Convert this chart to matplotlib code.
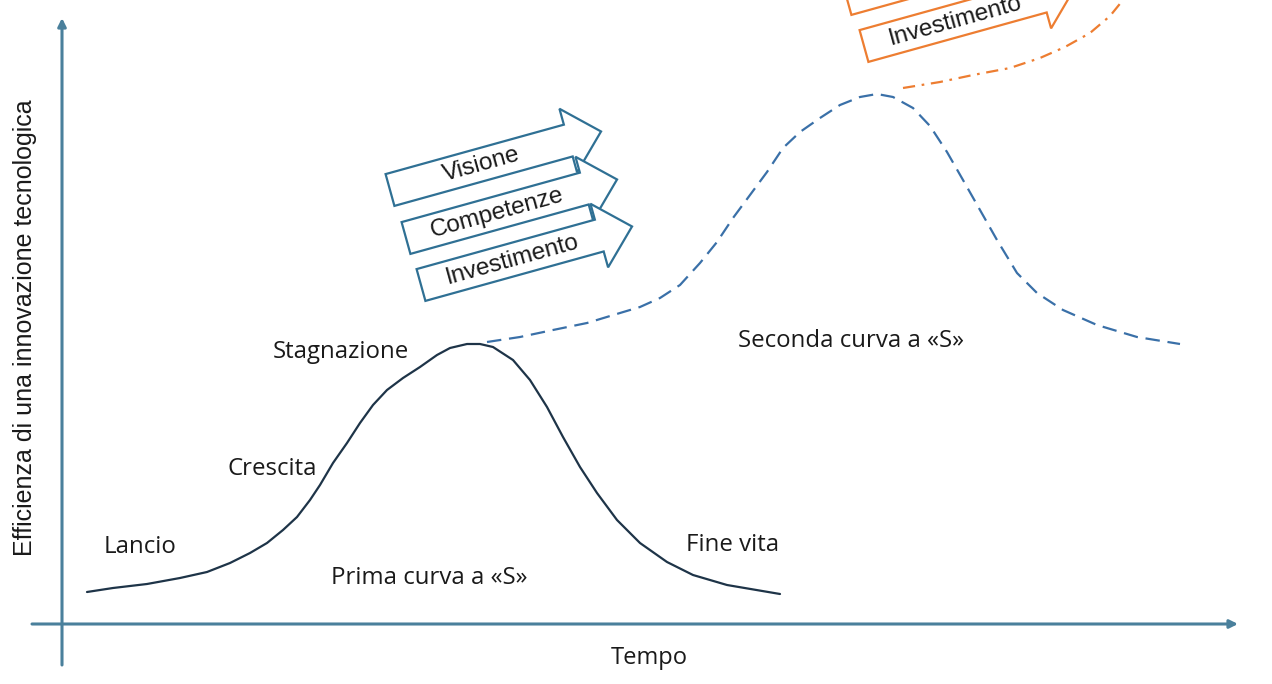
import numpy as np
import matplotlib
matplotlib.use("Agg")
import matplotlib.pyplot as plt
from matplotlib.patches import Polygon

W, H = 1272, 684

first_x = [87, 113, 147, 180, 207, 230, 250, 267, 283, 297, 310, 320, 333, 347, 360, 373, 387,
           403, 420, 437, 450, 467, 480, 493, 513, 530, 547, 563, 580, 597, 617, 640, 667,
           693, 727, 780]
first_y = [592, 588, 584, 578, 572, 563, 553, 543, 530, 517, 500, 485, 463, 443, 423, 405, 390,
           378, 367, 355, 348, 344, 344, 347, 360, 380, 407, 437, 467, 493, 520, 543, 562,
           575, 585, 594]

second_x = [487, 520, 553, 587, 620, 640, 660, 680, 700, 717, 733, 750, 767, 783, 800, 820, 840,
            860, 877, 893, 913, 930, 947, 963, 980, 997, 1017, 1037, 1063, 1097, 1137, 1180]
second_y = [342, 337, 330, 323, 313, 307, 298, 285, 263, 242, 218, 195, 172, 148, 132, 118, 105,
            97, 94, 97, 108, 126, 152, 180, 210, 240, 273, 293, 310, 325, 337, 344]

third_x = [903, 940, 973, 1010, 1040, 1065, 1090, 1110, 1123, 1132]
third_y = [88, 82, 75, 68, 58, 47, 33, 16, 0, -12]

drivers = ["Visione", "Competenze", "Investimento"]
blue_tail_x = [390, 406, 421]
blue_tail_y = [190, 238, 285]
orange_tail_x = [832, 847, 864]
orange_tail_y = [-48, -1, 46]

labels = ["Lancio", "Crescita", "Stagnazione", "Prima curva a «S»", "Fine vita", "Seconda curva a «S»"]
label_x = [140, 272, 341, 429, 733, 851]
label_y = [547, 469, 352, 578, 545, 341]

axis_col = "#4a809c"
curve_col = "#1e3448"
dash_col = "#3a70a8"
orange = "#ed7d31"
arrow_col = "#2f7094"
txt_col = "#1a1a1a"


def fy(v):
    return H - np.asarray(v, dtype=float)


fig = plt.figure(figsize=(W / 100, H / 100), dpi=100)
ax = fig.add_axes([0, 0, 1, 1])
ax.set_xlim(0, W)
ax.set_ylim(0, H)
ax.axis("off")

# axes with arrow heads
ax.annotate("", xy=(62, fy(18)), xytext=(62, fy(665)),
            arrowprops=dict(arrowstyle="-|>", color=axis_col, lw=2.2, mutation_scale=12,
                            shrinkA=0, shrinkB=0))
ax.annotate("", xy=(1238, fy(624)), xytext=(32, fy(624)),
            arrowprops=dict(arrowstyle="-|>", color=axis_col, lw=2.2, mutation_scale=12,
                            shrinkA=0, shrinkB=0))

ax.plot(first_x, fy(first_y), color=curve_col, lw=1.6, solid_capstyle="round",
        solid_joinstyle="round")
ax.plot(second_x, fy(second_y), color=dash_col, lw=1.6, linestyle=(0, (6.5, 3.5)))
ax.plot(third_x, fy(third_y), color=orange, lw=1.6, linestyle=(0, (5.5, 3.0, 1.2, 3.0)))

# block arrows with the three drivers
ang = np.deg2rad(15.5)
L, hl, b, h = 219, 34, 16.5, 33
local = np.array([(0, -b), (L - hl, -b), (L - hl, -h), (L, 0), (L - hl, h), (L - hl, b), (0, b)])
rot = np.array([[np.cos(ang), -np.sin(ang)], [np.sin(ang), np.cos(ang)]])


def block_arrow(x0, y0, text, col):
    pts = local @ rot.T + [x0, fy(y0)]
    ax.add_patch(Polygon(pts, closed=True, facecolor="white", edgecolor=col, lw=1.6,
                         joinstyle="miter"))
    cx, cy = np.array([(L - hl) / 2 + 2, 0]) @ rot.T + [x0, fy(y0)]
    if 0 < cy < H - 12:
        ax.text(cx, cy, text, rotation=15.5, rotation_mode="anchor", ha="center",
                va="center", fontsize=17.5, family="Liberation Sans", color=txt_col)


for x0, y0, t in zip(blue_tail_x, blue_tail_y, drivers):
    block_arrow(x0, y0, t, arrow_col)
for x0, y0, t in zip(orange_tail_x, orange_tail_y, drivers):
    block_arrow(x0, y0, t, orange)

for t, x, y in zip(labels, label_x, label_y):
    ax.text(x, fy(y), t, ha="center", va="center", fontsize=17.3, family="Open Sans",
            color=txt_col)

ax.text(649, fy(658), "Tempo", ha="center", va="center", fontsize=17, family="Open Sans",
        color=txt_col)
ax.text(25, fy(328), "Efficienza di una innovazione tecnologica", rotation=90, ha="center",
        va="center", fontsize=18, family="Liberation Sans", color=txt_col)

fig.savefig("out.png", dpi=100)
